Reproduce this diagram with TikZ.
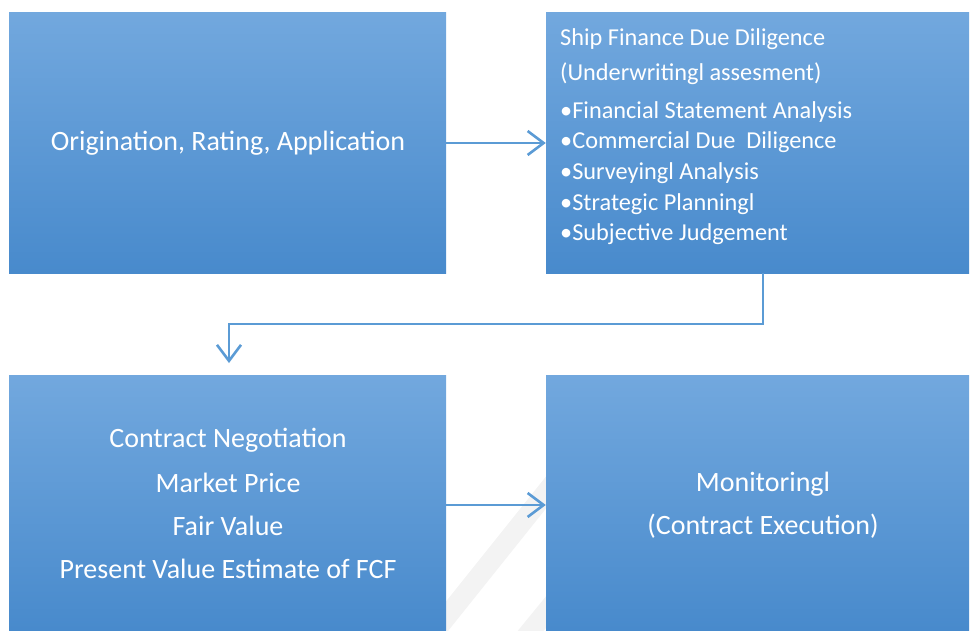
\documentclass[tikz,border=0pt]{standalone}
\usepackage{fontspec}
\setmainfont{Carlito}
\usetikzlibrary{arrows.meta}
\definecolor{boxtop}{HTML}{72A8DE}
\definecolor{boxbot}{HTML}{488ACC}
\definecolor{flow}{HTML}{5B9BD5}
\definecolor{bandgray}{HTML}{F3F3F3}
\tikzset{
  stagebox/.style={rectangle, draw=none, inner sep=0pt, top color=boxtop, bottom color=boxbot},
  boxtext/.style={text=white, inner sep=0pt, font=\fontsize{28}{32}\selectfont},
  listtext/.style={text=white, inner sep=0pt, anchor=west, font=\fontsize{24.3}{28}\selectfont},
  flowline/.style={draw=flow, line width=2.6pt, -{Straight Barb[length=16pt,width=24pt,line width=2.6pt]}}
}
\begin{document}
\begin{tikzpicture}[x=1pt,y={(0pt,-1pt)}]
\useasboundingbox (0,0) rectangle (971,630);
% faint diagonal bands behind the lower boxes
\draw[bandgray, line width=20pt] (440,625) -- (560,475);
\draw[bandgray, line width=20pt] (515,650) -- (560,595);
% stage boxes
\node[stagebox, minimum width=437pt, minimum height=261pt] (orig) at (227.5,142.5) {};
\node[stagebox, minimum width=423pt, minimum height=261pt] (dd) at (757.5,142.5) {};
\node[stagebox, minimum width=437pt, minimum height=255pt] (neg) at (227.5,502.5) {};
\node[stagebox, minimum width=423pt, minimum height=255pt] (mon) at (757.5,502.5) {};
% texts
\node[boxtext] (t1) at (228,143) {Origination, Rating, Application};
\node[listtext] (d1) at (560,39) {Ship Finance Due Diligence};
\node[listtext] (d2) at (560,74) {(Underwritingl assesment)};
\node[listtext] (d3) at (560,112) {•Financial Statement Analysis};
\node[listtext] (d4) at (560,142) {•Commercial Due\ \ Diligence};
\node[listtext] (d5) at (560,173) {•Surveyingl Analysis};
\node[listtext] (d6) at (560,204) {•Strategic Planningl};
\node[listtext] (d7) at (560,234) {•Subjective Judgement};
\node[boxtext] (n1) at (228,440) {Contract Negotiation};
\node[boxtext] (n2) at (228,483) {Market Price};
\node[boxtext] (n3) at (228,526) {Fair Value};
\node[boxtext] (n4) at (228,569) {Present Value Estimate of FCF};
\node[boxtext] (m1) at (763,484) {Monitoringl};
\node[boxtext] (m2) at (763,526) {(Contract Execution)};
% connectors
\coordinate (turnA) at (763,324);
\coordinate (turnB) at (229,324);
\coordinate (dropEnd) at (229,363);
\draw[flowline] (orig.east |- 0,143) -- (dd.west |- 0,143);
\draw[flowline] (dd.south -| turnA) -- (turnA) -- (turnB) -- (dropEnd);
\draw[flowline] (neg.east |- 0,505) -- (mon.west |- 0,505);
\end{tikzpicture}
\end{document}
